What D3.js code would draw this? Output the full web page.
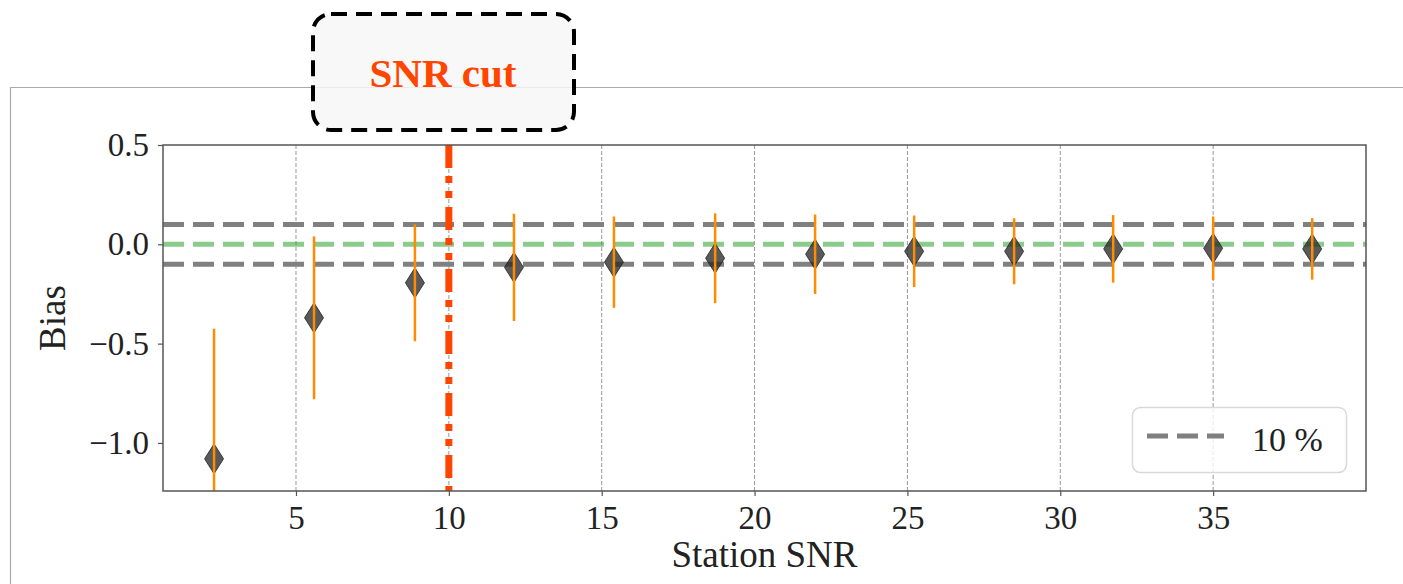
<!DOCTYPE html>
<html>
<head>
<meta charset="utf-8">
<script src="https://cdn.jsdelivr.net/npm/d3@7"></script>
<style>
  body { margin: 0; background: #fff; }
  svg { display: block; }
  text { font-family: "Liberation Serif", "Times New Roman", serif; }
</style>
</head>
<body>
<div id="chart"></div>
<script>
// Bias vs station SNR
const snr = [2.32, 5.59, 8.89, 12.13, 15.40, 18.71, 21.98, 25.22, 28.49, 31.73, 35.00, 38.24];
const bias = [-1.08, -0.37, -0.194, -0.116, -0.09, -0.07, -0.05, -0.035, -0.035, -0.023, -0.02, -0.023];
const biasErr = [0.655, 0.41, 0.294, 0.27, 0.23, 0.226, 0.2, 0.18, 0.166, 0.17, 0.16, 0.155];
const xTicks = [5, 10, 15, 20, 25, 30, 35];
const yTicks = [0.5, 0.0, -0.5, -1.0];
const tolerance = [0.1, -0.1];
const snrCut = 10;
const legendLabel = '10 %';

const width = 1403;
const height = 584;
const plot = { left: 163, right: 1366, top: 145, bottom: 491 };

const svg = d3.select('#chart')
  .append('svg')
  .attr('width', width)
  .attr('height', height);

const x = d3.scaleLinear().domain([0.65, 40.0]).range([plot.left, plot.right]);
const y = d3.scaleLinear().domain([-1.242, 0.5]).range([plot.bottom, plot.top]);

// outer page frame lines
svg.append('line')
  .attr('x1', 10).attr('x2', width).attr('y1', 87.5).attr('y2', 87.5)
  .attr('stroke', '#aaa').attr('stroke-width', 1.2);
svg.append('line')
  .attr('x1', 10.5).attr('x2', 10.5).attr('y1', 87).attr('y2', height)
  .attr('stroke', '#aaa').attr('stroke-width', 1.2);

svg.append('defs').append('clipPath')
  .attr('id', 'plot-clip')
  .append('rect')
  .attr('x', plot.left).attr('y', plot.top)
  .attr('width', plot.right - plot.left).attr('height', plot.bottom - plot.top);

const inner = svg.append('g').attr('clip-path', 'url(#plot-clip)');

// vertical grid
inner.selectAll('.grid')
  .data(xTicks)
  .join('line')
  .attr('class', 'grid')
  .attr('x1', d => x(d)).attr('x2', d => x(d))
  .attr('y1', plot.top).attr('y2', plot.bottom)
  .attr('stroke', '#999')
  .attr('stroke-width', 1)
  .attr('stroke-dasharray', '4,2');

// +-10 % band and zero line
inner.selectAll('.tol')
  .data(tolerance)
  .join('line')
  .attr('class', 'tol')
  .attr('x1', plot.left).attr('x2', plot.right)
  .attr('y1', d => y(d)).attr('y2', d => y(d))
  .attr('stroke', '#808080')
  .attr('stroke-width', 5)
  .attr('stroke-dasharray', '21,9');

inner.append('line')
  .attr('x1', plot.left).attr('x2', plot.right)
  .attr('y1', y(0)).attr('y2', y(0))
  .attr('stroke', '#2ca02c')
  .attr('stroke-opacity', 0.55)
  .attr('stroke-width', 5)
  .attr('stroke-dasharray', '21,9');

const points = snr.map((s, i) => ({ s, b: bias[i], e: biasErr[i] }));

// diamond markers
inner.selectAll('.marker')
  .data(points)
  .join('path')
  .attr('class', 'marker')
  .attr('d', 'M0,-15L9.5,0L0,15L-9.5,0Z')
  .attr('transform', d => `translate(${x(d.s)},${y(d.b)})`)
  .attr('fill', '#2a2a2a')
  .attr('fill-opacity', 0.78)
  .attr('stroke', '#222')
  .attr('stroke-opacity', 0.8)
  .attr('stroke-width', 1);

// error bars
inner.selectAll('.err')
  .data(points)
  .join('line')
  .attr('class', 'err')
  .attr('x1', d => x(d.s)).attr('x2', d => x(d.s))
  .attr('y1', d => y(d.b + d.e)).attr('y2', d => y(d.b - d.e))
  .attr('stroke', '#ff8c00')
  .attr('stroke-width', 2.5);

// SNR cut line
inner.append('line')
  .attr('x1', x(snrCut)).attr('x2', x(snrCut))
  .attr('y1', plot.top).attr('y2', plot.bottom)
  .attr('stroke', '#ff4500')
  .attr('stroke-width', 7)
  .attr('stroke-dasharray', '23,8,7,8,7,9');

// spines
svg.append('rect')
  .attr('x', plot.left).attr('y', plot.top)
  .attr('width', plot.right - plot.left).attr('height', plot.bottom - plot.top)
  .attr('fill', 'none')
  .attr('stroke', '#555')
  .attr('stroke-width', 1.5);

// axes
const xAxis = svg.append('g')
  .attr('transform', `translate(0,${plot.bottom})`)
  .call(d3.axisBottom(x).tickValues(xTicks).tickSize(5).tickPadding(10).tickFormat(d3.format('d')));
const yAxis = svg.append('g')
  .attr('transform', `translate(${plot.left},0)`)
  .call(d3.axisLeft(y).tickValues(yTicks).tickSize(5).tickPadding(9).tickFormat(d3.format('.1f')));

[xAxis, yAxis].forEach(a => {
  a.select('.domain').remove();
  a.selectAll('.tick line').attr('stroke', '#555').attr('stroke-width', 1.2);
  a.selectAll('.tick text')
    .attr('fill', '#222')
    .style('font-family', '"Liberation Serif", serif')
    .style('font-size', '33px');
});

svg.append('text')
  .attr('x', (plot.left + plot.right) / 2)
  .attr('y', 567)
  .attr('text-anchor', 'middle')
  .attr('fill', '#222')
  .style('font-size', '37px')
  .text('Station SNR');

svg.append('text')
  .attr('transform', `translate(65,${(plot.top + plot.bottom) / 2}) rotate(-90)`)
  .attr('text-anchor', 'middle')
  .attr('fill', '#222')
  .style('font-size', '37px')
  .text('Bias');

// legend
const legend = svg.append('g');
legend.append('rect')
  .attr('x', 1132.5).attr('y', 407.5)
  .attr('width', 214).attr('height', 65)
  .attr('rx', 8)
  .attr('fill', '#fff').attr('fill-opacity', 0.8)
  .attr('stroke', '#d9d9d9').attr('stroke-width', 1.5);
legend.append('line')
  .attr('x1', 1147).attr('x2', 1224)
  .attr('y1', 436).attr('y2', 436)
  .attr('stroke', '#808080')
  .attr('stroke-width', 5)
  .attr('stroke-dasharray', '21,9');
legend.append('text')
  .attr('x', 1252).attr('y', 451)
  .attr('fill', '#222')
  .style('font-size', '34px')
  .text(legendLabel);

// SNR cut annotation box
svg.append('rect')
  .attr('x', 313).attr('y', 14)
  .attr('width', 261).attr('height', 116)
  .attr('rx', 18)
  .attr('fill', '#f7f7f7').attr('fill-opacity', 0.85)
  .attr('stroke', '#000')
  .attr('stroke-width', 4)
  .attr('stroke-dasharray', '16,9');
svg.append('text')
  .attr('x', 443).attr('y', 87)
  .attr('text-anchor', 'middle')
  .attr('fill', '#ff4500')
  .style('font-size', '41px')
  .style('font-weight', 'bold')
  .text('SNR cut');
</script>
</body>
</html>
